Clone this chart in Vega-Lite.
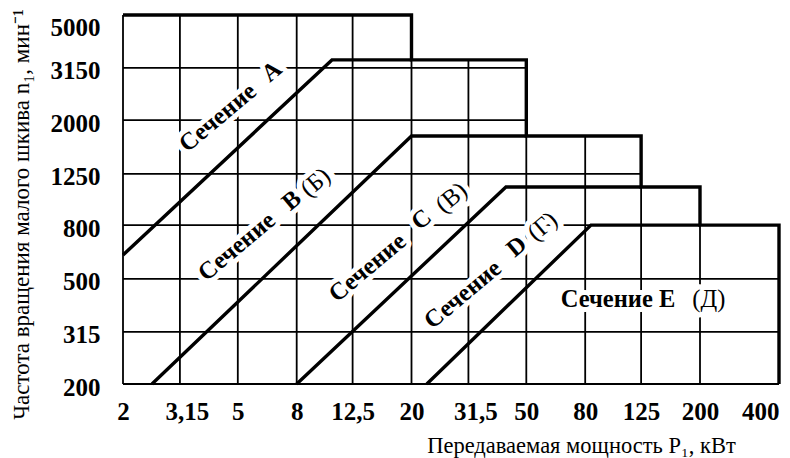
{
  "$schema": "https://vega.github.io/schema/vega-lite/v6.json",
  "width": 656,
  "height": 369,
  "autosize": {"type": "none"},
  "padding": {"left": 123, "top": 15, "right": 11, "bottom": 74},
  "background": "white",
  "config": {"view": {"stroke": null}},
  "datasets": {
    "grid": [
      {"x": 2, "y": 200, "x2": 2, "y2": 5000},
      {"x": 3.15, "y": 200, "x2": 3.15, "y2": 5000},
      {"x": 5, "y": 200, "x2": 5, "y2": 5000},
      {"x": 8, "y": 200, "x2": 8, "y2": 5000},
      {"x": 12.5, "y": 200, "x2": 12.5, "y2": 5000},
      {"x": 20, "y": 200, "x2": 20, "y2": 5000},
      {"x": 31.5, "y": 200, "x2": 31.5, "y2": 3380},
      {"x": 50, "y": 200, "x2": 50, "y2": 3380},
      {"x": 80, "y": 200, "x2": 80, "y2": 1740},
      {"x": 125, "y": 200, "x2": 125, "y2": 1740},
      {"x": 200, "y": 200, "x2": 200, "y2": 1115},
      {"x": 2, "y": 200, "x2": 400, "y2": 200},
      {"x": 2, "y": 315, "x2": 400, "y2": 315},
      {"x": 2, "y": 500, "x2": 400, "y2": 500},
      {"x": 2, "y": 800, "x2": 400, "y2": 800},
      {"x": 2, "y": 1250, "x2": 125, "y2": 1250},
      {"x": 2, "y": 2000, "x2": 50, "y2": 2000},
      {"x": 2, "y": 3150, "x2": 50, "y2": 3150}
    ],
    "bounds": [
      {"seg": "env", "ord": 1, "x": 2, "y": 5000},
      {"seg": "env", "ord": 2, "x": 20, "y": 5000},
      {"seg": "env", "ord": 3, "x": 20, "y": 3380},
      {"seg": "env", "ord": 4, "x": 50, "y": 3380},
      {"seg": "env", "ord": 5, "x": 50, "y": 1740},
      {"seg": "env", "ord": 6, "x": 125, "y": 1740},
      {"seg": "env", "ord": 7, "x": 125, "y": 1115},
      {"seg": "env", "ord": 8, "x": 200, "y": 1115},
      {"seg": "env", "ord": 9, "x": 200, "y": 800},
      {"seg": "env", "ord": 10, "x": 400, "y": 800},
      {"seg": "env", "ord": 11, "x": 400, "y": 200},
      {"seg": "A", "ord": 1, "x": 2, "y": 616},
      {"seg": "A", "ord": 2, "x": 10.6, "y": 3380},
      {"seg": "A", "ord": 3, "x": 20, "y": 3380},
      {"seg": "B", "ord": 1, "x": 2.52, "y": 200},
      {"seg": "B", "ord": 2, "x": 20, "y": 1740},
      {"seg": "B", "ord": 3, "x": 50, "y": 1740},
      {"seg": "C", "ord": 1, "x": 8, "y": 200},
      {"seg": "C", "ord": 2, "x": 42.5, "y": 1115},
      {"seg": "C", "ord": 3, "x": 125, "y": 1115},
      {"seg": "D", "ord": 1, "x": 22.6, "y": 200},
      {"seg": "D", "ord": 2, "x": 83.8, "y": 800},
      {"seg": "D", "ord": 3, "x": 200, "y": 800}
    ],
    "labels": [
      {"x": 4.27, "y": 2036, "t": "Сечение", "part": "name", "orient": "diag"},
      {"x": 6.57, "y": 3041, "t": "A", "part": "name", "orient": "diag"},
      {"x": 4.97, "y": 661, "t": "Сечение", "part": "name", "orient": "diag"},
      {"x": 7.71, "y": 987, "t": "B", "part": "name", "orient": "diag"},
      {"x": 9.33, "y": 1155, "t": "(Б)", "part": "alt", "orient": "diag"},
      {"x": 14.1, "y": 550, "t": "Сечение", "part": "name", "orient": "diag"},
      {"x": 21.7, "y": 836, "t": "C", "part": "name", "orient": "diag"},
      {"x": 27.6, "y": 1013, "t": "(В)", "part": "alt", "orient": "diag"},
      {"x": 30.2, "y": 435, "t": "Сечение", "part": "name", "orient": "diag"},
      {"x": 46.4, "y": 661, "t": "D", "part": "name", "orient": "diag"},
      {"x": 57.1, "y": 787, "t": "(Г)", "part": "alt", "orient": "diag"},
      {"x": 104, "y": 416, "t": "Сечение E", "part": "name", "orient": "flat"},
      {"x": 216, "y": 416, "t": "(Д)", "part": "alt", "orient": "flat"}
    ]
  },
  "encoding": {
    "x": {
      "field": "x",
      "type": "quantitative",
      "scale": {"type": "log", "domain": [2, 200, 400], "range": [0, 577, 656], "nice": false},
      "axis": {
        "values": [2, 3.15, 5, 8, 12.5, 20, 31.5, 50, 80, 125, 200, 400],
        "labelExpr": "replace(toString(datum.value), '.', ',')",
        "ticks": false,
        "domain": false,
        "grid": false,
        "labelFont": "Liberation Serif",
        "labelFontWeight": "bold",
        "labelFontSize": 25,
        "labelColor": "black",
        "labelPadding": 15,
        "labelFlush": false,
        "labelOverlap": false,
        "labelBound": false,
        "labelAlign": {"condition": {"test": "datum.value == 400", "value": "right"}, "value": "center"},
        "labelOffset": {"condition": {"test": "datum.value == 3.15 || datum.value == 31.5", "value": 7}, "value": 0},
        "title": "Передаваемая мощность P₁, кВт",
        "titleFont": "Liberation Serif",
        "titleFontWeight": "normal",
        "titleFontSize": 22.5,
        "titleColor": "black",
        "titleX": 458,
        "titleY": 68,
        "titleAlign": "center",
        "titleBaseline": "alphabetic"
      }
    },
    "y": {
      "field": "y",
      "type": "quantitative",
      "scale": {"type": "log", "domain": [200, 5000], "nice": false},
      "axis": {
        "values": [200, 315, 500, 800, 1250, 2000, 3150, 5000],
        "format": "d",
        "ticks": false,
        "domain": false,
        "grid": false,
        "labelFont": "Liberation Serif",
        "labelFontWeight": "bold",
        "labelFontSize": 25,
        "labelColor": "black",
        "labelPadding": 23,
        "labelFlush": false,
        "labelOverlap": false,
        "labelBound": false,
        "labelBaseline": {"condition": {"test": "datum.value == 5000", "value": "top"}, "value": "middle"},
        "labelOffset": {"condition": {"test": "datum.value == 5000", "value": 0}, "value": 3},
        "title": "Частота вращения малого шкива n₁, мин⁻¹",
        "titleFont": "Liberation Serif",
        "titleFontWeight": "normal",
        "titleFontSize": 23,
        "titleColor": "black",
        "titleX": -95,
        "titleY": 199,
        "titleAngle": 270,
        "titleAlign": "center",
        "titleBaseline": "alphabetic"
      }
    }
  },
  "layer": [
    {
      "data": {"name": "grid"},
      "mark": {"type": "rule", "color": "black", "strokeWidth": 1.8},
      "encoding": {
        "x2": {"field": "x2"},
        "y2": {"field": "y2"}
      }
    },
    {
      "data": {"name": "labels"},
      "mark": {"type": "text", "font": "Liberation Serif", "fontWeight": "bold", "fontSize": 24.5, "align": "center", "baseline": "middle", "fill": "white", "stroke": "white", "strokeWidth": 10, "strokeJoin": "round"},
      "encoding": {
        "text": {"field": "t"},
        "angle": {"condition": {"test": "datum.orient == 'diag'", "value": 320}, "value": 0}
      }
    },
    {
      "data": {"name": "bounds"},
      "mark": {"type": "line", "color": "black", "strokeWidth": 3.4, "strokeJoin": "miter"},
      "encoding": {
        "detail": {"field": "seg"},
        "order": {"field": "ord"}
      }
    },
    {
      "data": {"name": "labels"},
      "transform": [{"filter": "datum.part == 'name'"}],
      "mark": {"type": "text", "font": "Liberation Serif", "fontWeight": "bold", "fontSize": 24.5, "align": "center", "baseline": "middle", "color": "black"},
      "encoding": {
        "text": {"field": "t"},
        "angle": {"condition": {"test": "datum.orient == 'diag'", "value": 320}, "value": 0}
      }
    },
    {
      "data": {"name": "labels"},
      "transform": [{"filter": "datum.part == 'alt'"}],
      "mark": {"type": "text", "font": "Liberation Serif", "fontWeight": "normal", "fontSize": 24.5, "align": "center", "baseline": "middle", "color": "black"},
      "encoding": {
        "text": {"field": "t"},
        "angle": {"condition": {"test": "datum.orient == 'diag'", "value": 320}, "value": 0}
      }
    }
  ]
}
